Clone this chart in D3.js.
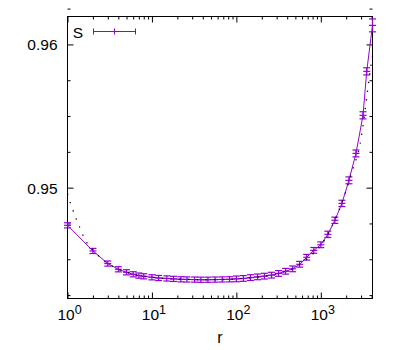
<!DOCTYPE html>
<html>
<head>
<meta charset="utf-8">
<script src="https://cdn.jsdelivr.net/npm/d3@7"></script>
<style>
  body { margin: 0; background: #fff; }
  text { font-family: "Liberation Sans", Arial, sans-serif; fill: #000; }
</style>
</head>
<body>
<svg id="chart" width="400" height="350"></svg>
<script>
// measured S(r) with errors
var rValues = [1, 2, 3, 4, 5, 6, 7, 8, 10, 12, 15, 18, 22, 26, 32, 38, 46, 56, 68, 83,
    100, 121, 147, 178, 215, 261, 316, 383, 464, 562, 681, 825, 1000, 1212, 1468, 1778,
    2154, 2610, 3162, 3500, 4096];
var sValues = [0.94737, 0.94558, 0.94470, 0.94430, 0.94409, 0.94395, 0.94386, 0.94381,
    0.94374, 0.94369, 0.94366, 0.94363, 0.94360, 0.94359, 0.94358, 0.94357, 0.94357,
    0.94358, 0.94359, 0.94360, 0.94363, 0.94366, 0.94372, 0.94377, 0.94382, 0.94389,
    0.94401, 0.94416, 0.94433, 0.94465, 0.94514, 0.94562, 0.94601, 0.94674, 0.94772,
    0.94890, 0.95051, 0.95239, 0.95505, 0.95812, 0.96133];
var sErrors = [0.00018, 0.00018, 0.00018, 0.00018, 0.00018, 0.00018, 0.00018, 0.00018,
    0.00018, 0.00018, 0.00018, 0.00018, 0.00018, 0.00018, 0.00018, 0.00018, 0.00018,
    0.00018, 0.00018, 0.00018, 0.0002, 0.0002, 0.0002, 0.0002, 0.0002, 0.0002, 0.0002,
    0.0002, 0.0002, 0.0002, 0.0002, 0.0002, 0.0002, 0.00022, 0.00022, 0.00022, 0.00024,
    0.00024, 0.00025, 0.00025, 0.00045];

// dotted reference curve (no key entry)
var fitR = [1, 1.1, 1.2, 1.3, 1.4, 1.5, 1.7, 2, 2.5, 3, 4, 5, 7, 10, 20, 50, 100, 200, 300,
    500, 700, 1000, 1300, 1600, 2000, 2300, 2600, 2900, 3200, 3500, 3800, 4096];
var fitS = [0.94958, 0.94880, 0.94821, 0.94765, 0.94720, 0.94678, 0.94615, 0.94566,
    0.94507, 0.94470, 0.94430, 0.94409, 0.94386, 0.94374, 0.94362, 0.94357, 0.94363,
    0.94380, 0.94398, 0.94444, 0.94507, 0.94597, 0.94709, 0.94828, 0.94981, 0.95100,
    0.95191, 0.95295, 0.95456, 0.95630, 0.95798, 0.95916];

var xMajor = [1, 10, 100, 1000];
var yMajor = [0.95, 0.96];
var seriesName = "S";
var xTitle = "r";

var purple = "#9400d3";
var pLeft = 67.5, pRight = 372.5, pTop = 16.5, pBottom = 298.5;

var svg = d3.select("#chart");

var x = d3.scaleLog().domain([1, 4096]).range([pLeft, pRight]);
var y = d3.scaleLinear().domain([0.94226, 0.96195]).range([pBottom, pTop]);

var data = rValues.map(function(r, i) { return { r: r, s: sValues[i], e: sErrors[i] }; });
var fit = fitR.map(function(r, i) { return { r: r, s: fitS[i] }; });

// minor tick values
var xMinor = [];
xMajor.forEach(function(d) {
    for (var k = 2; k <= 9; k++) { if (d * k <= 4096) xMinor.push(d * k); }
});
var yMinor = d3.range(0, 9).map(function(i) { return +(0.9425 + i * 0.0025).toFixed(4); })
    .filter(function(v) { return yMajor.indexOf(v) < 0; });

// axes, ticks pointing inward on all four sides
function drawAxis(axis, vals, size, transform) {
    svg.append("g")
        .attr("transform", transform)
        .call(axis.tickValues(vals).tickSize(size).tickFormat(""))
        .call(function(g) { g.select(".domain").remove(); })
        .selectAll("line").attr("stroke", "#000");
}
drawAxis(d3.axisTop(x), xMajor, 6, "translate(0," + pBottom + ")");
drawAxis(d3.axisTop(x), xMinor, 3, "translate(0," + pBottom + ")");
drawAxis(d3.axisBottom(x), xMajor, 6, "translate(0," + pTop + ")");
drawAxis(d3.axisBottom(x), xMinor, 3, "translate(0," + pTop + ")");
drawAxis(d3.axisRight(y), yMajor, 6, "translate(" + pLeft + ",0)");
drawAxis(d3.axisRight(y), yMinor, 3, "translate(" + pLeft + ",0)");
drawAxis(d3.axisLeft(y), yMajor, 6, "translate(" + pRight + ",0)");
drawAxis(d3.axisLeft(y), yMinor, 3, "translate(" + pRight + ",0)");

svg.append("rect")
    .attr("x", pLeft).attr("y", pTop)
    .attr("width", pRight - pLeft).attr("height", pBottom - pTop)
    .attr("fill", "none").attr("stroke", "#000").attr("stroke-width", 1);

// tick labels
svg.selectAll(".ylab").data(yMajor).enter().append("text")
    .attr("x", 57.5)
    .attr("y", function(d) { return y(d) + 6; })
    .attr("text-anchor", "end")
    .style("font-size", "15.5px")
    .text(function(d) { return d3.format(".2f")(d); });

var xl = svg.selectAll(".xlab").data(xMajor).enter().append("text")
    .attr("x", function(d) { return x(d) + 2; })
    .attr("y", 320)
    .attr("text-anchor", "middle")
    .style("font-size", "15.5px");
xl.append("tspan").text("10");
xl.append("tspan")
    .attr("dy", -6)
    .style("font-size", "12.5px")
    .text(function(d) { return Math.round(Math.log10(d)); });

svg.append("text")
    .attr("x", (pLeft + pRight) / 2)
    .attr("y", 343)
    .attr("text-anchor", "middle")
    .style("font-size", "16px")
    .text(xTitle);

var plot = svg.append("g");

// data line
plot.append("path")
    .datum(data)
    .attr("fill", "none")
    .attr("stroke", purple)
    .attr("stroke-width", 1)
    .attr("d", d3.line().x(function(d) { return x(d.r); }).y(function(d) { return y(d.s); }));

// error bars with caps and + points
var eb = plot.selectAll(".eb").data(data).enter().append("g")
    .attr("stroke", purple).attr("stroke-width", 1.2);
eb.append("line")
    .attr("x1", function(d) { return x(d.r); }).attr("x2", function(d) { return x(d.r); })
    .attr("y1", function(d) { return y(d.s - d.e); }).attr("y2", function(d) { return y(d.s + d.e); });
[-1, 0, 1].forEach(function(k) {
    eb.append("line")
        .attr("x1", function(d) { return x(d.r) - 3.5; }).attr("x2", function(d) { return x(d.r) + 3.5; })
        .attr("y1", function(d) { return y(d.s + k * d.e); }).attr("y2", function(d) { return y(d.s + k * d.e); });
});

// dotted curve on top
plot.append("path")
    .datum(fit)
    .attr("fill", "none")
    .attr("stroke", "#000")
    .attr("stroke-width", 1.3)
    .attr("stroke-dasharray", "1.3,7.4")
    .attr("d", d3.line().curve(d3.curveMonotoneX)
        .x(function(d) { return x(d.r); }).y(function(d) { return y(d.s); }));

// key
svg.append("text")
    .attr("x", 83)
    .attr("y", 38)
    .attr("text-anchor", "end")
    .style("font-size", "15.5px")
    .text(seriesName);
var key = svg.append("g").attr("stroke", purple).attr("stroke-width", 1);
key.append("line").attr("x1", 93.5).attr("x2", 135.5).attr("y1", 31.5).attr("y2", 31.5);
[93.5, 114.5, 135.5].forEach(function(kx) {
    key.append("line").attr("x1", kx).attr("x2", kx).attr("y1", 28.5).attr("y2", 34.5);
});
</script>
</body>
</html>
